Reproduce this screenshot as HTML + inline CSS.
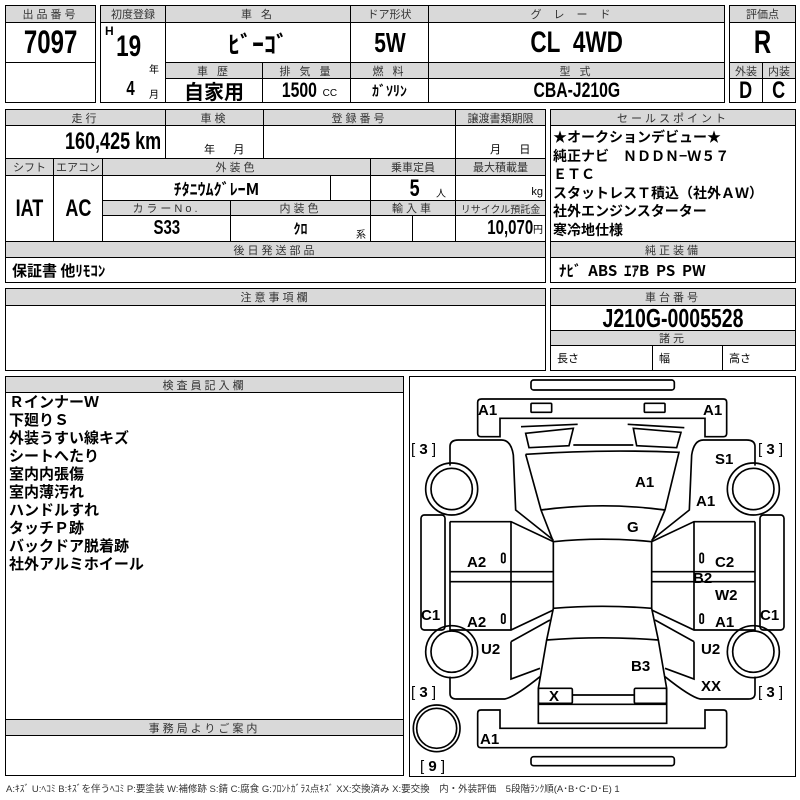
<!DOCTYPE html>
<html><head><meta charset="utf-8"><style>
*{margin:0;padding:0;box-sizing:border-box}
body{width:800px;height:800px;background:#fff;position:relative;overflow:hidden;font-family:"Liberation Sans","Noto Sans CJK JP",sans-serif;color:#000}
.c{position:absolute;border:1.5px solid #000;display:flex;align-items:center;justify-content:center;white-space:nowrap;overflow:hidden}
.h{background:#d9d9d9;font-size:11px;letter-spacing:3px;color:#333}
.b{font-family:"Liberation Sans Narrow","Liberation Sans","Noto Sans CJK JP",sans-serif;font-weight:bold}
.j{font-family:"Noto Sans CJK JP",sans-serif;font-weight:bold}
.t{position:absolute;white-space:nowrap}
.n{display:inline-block;transform:scaleX(.75)}
.r{transform-origin:right center}
</style></head><body>

<!-- top row -->
<div class="c h" style="left:5px;top:5px;width:91px;height:18px">出品番号</div>
<div class="c b" style="left:5px;top:22px;width:91px;height:41px;font-size:32px"><span class="n">7097</span></div>
<div class="c" style="left:5px;top:62px;width:91px;height:41px"></div>

<div class="c h" style="left:100px;top:5px;width:66px;height:18px;letter-spacing:0">初度登録</div>
<div class="c" style="left:100px;top:22px;width:66px;height:81px"></div>
<div class="t b" style="left:105px;top:24px;font-size:12px">H</div>
<div class="t b" style="left:112px;top:30px;font-size:30px"><span class="n">19</span></div>
<div class="t" style="left:149px;top:61px;font-size:10px">年</div>
<div class="t b" style="left:125px;top:78px;font-size:20px"><span class="n">4</span></div>
<div class="t" style="left:149px;top:86px;font-size:10px">月</div>

<div class="c h" style="left:165px;top:5px;width:186px;height:18px">車 名</div>
<div class="c j" style="left:165px;top:22px;width:186px;height:41px;font-size:24px">ﾋﾞｰｺﾞ</div>
<div class="c h" style="left:350px;top:5px;width:79px;height:18px;letter-spacing:0">ドア形状</div>
<div class="c b" style="left:350px;top:22px;width:79px;height:41px;font-size:28px"><span class="n">5W</span></div>
<div class="c h" style="left:428px;top:5px;width:297px;height:18px;letter-spacing:12px">グレード</div>
<div class="c b" style="left:428px;top:22px;width:297px;height:41px;font-size:30px"><span class="n">CL&nbsp;&nbsp;4WD</span></div>

<div class="c h" style="left:165px;top:62px;width:98px;height:17px">車 歴</div>
<div class="c h" style="left:262px;top:62px;width:89px;height:17px">排 気 量</div>
<div class="c h" style="left:350px;top:62px;width:79px;height:17px">燃 料</div>
<div class="c h" style="left:428px;top:62px;width:297px;height:17px">型 式</div>
<div class="c j" style="left:165px;top:78px;width:98px;height:25px;font-size:20px">自家用</div>
<div class="c b" style="left:262px;top:78px;width:89px;height:25px;font-size:21px"><span class="n">1500</span><span style="font-size:10px;font-weight:normal;margin-top:6px">CC</span></div>
<div class="c j" style="left:350px;top:78px;width:79px;height:25px;font-size:14px">ｶﾞｿﾘﾝ</div>
<div class="c b" style="left:428px;top:78px;width:297px;height:25px;font-size:21px"><span class="n">CBA-J210G</span></div>

<div class="c h" style="left:729px;top:5px;width:67px;height:18px;letter-spacing:0">評価点</div>
<div class="c b" style="left:729px;top:22px;width:67px;height:41px;font-size:32px"><span class="n">R</span></div>
<div class="c h" style="left:729px;top:62px;width:34px;height:17px;letter-spacing:0">外装</div>
<div class="c h" style="left:762px;top:62px;width:34px;height:17px;letter-spacing:0">内装</div>
<div class="c b" style="left:729px;top:78px;width:34px;height:25px;font-size:24px"><span class="n">D</span></div>
<div class="c b" style="left:762px;top:78px;width:34px;height:25px;font-size:24px"><span class="n">C</span></div>

<!-- second block -->
<div class="c h" style="left:5px;top:109px;width:161px;height:17px">走行</div>
<div class="c h" style="left:165px;top:109px;width:99px;height:17px">車検</div>
<div class="c h" style="left:263px;top:109px;width:193px;height:17px">登録番号</div>
<div class="c h" style="left:455px;top:109px;width:91px;height:17px;letter-spacing:0">譲渡書類期限</div>
<div class="c b" style="left:5px;top:125px;width:161px;height:34px;font-size:24px;justify-content:flex-end;padding-right:4px"><span class="n r">160,425 km</span></div>
<div class="c" style="left:165px;top:125px;width:99px;height:34px"></div>
<div class="t" style="left:204px;top:141px;font-size:11px">年&nbsp;&nbsp;&nbsp;&nbsp;&nbsp;&nbsp;月</div>
<div class="c" style="left:263px;top:125px;width:193px;height:34px"></div>
<div class="c" style="left:455px;top:125px;width:91px;height:34px"></div>
<div class="t" style="left:490px;top:141px;font-size:11px">月&nbsp;&nbsp;&nbsp;&nbsp;&nbsp;&nbsp;日</div>

<div class="c h" style="left:5px;top:158px;width:49px;height:18px;letter-spacing:0">シフト</div>
<div class="c h" style="left:53px;top:158px;width:50px;height:18px;letter-spacing:0">エアコン</div>
<div class="c h" style="left:102px;top:158px;width:269px;height:18px">外装色</div>
<div class="c h" style="left:370px;top:158px;width:86px;height:18px;letter-spacing:0">乗車定員</div>
<div class="c h" style="left:455px;top:158px;width:91px;height:18px;letter-spacing:0">最大積載量</div>
<div class="c b" style="left:5px;top:175px;width:49px;height:67px;font-size:24px"><span class="n">IAT</span></div>
<div class="c b" style="left:53px;top:175px;width:50px;height:67px;font-size:24px"><span class="n">AC</span></div>
<div class="c j" style="left:102px;top:175px;width:229px;height:26px;font-size:16px">ﾁﾀﾆｳﾑｸﾞﾚｰM</div>
<div class="c" style="left:330px;top:175px;width:41px;height:26px"></div>
<div class="c" style="left:370px;top:175px;width:86px;height:26px"></div>
<div class="t b" style="left:408px;top:175px;font-size:24px"><span class="n">5</span></div>
<div class="t" style="left:436px;top:185px;font-size:10px">人</div>
<div class="c" style="left:455px;top:175px;width:91px;height:26px;justify-content:flex-end;font-size:11px;padding-right:2px;padding-top:8px">kg</div>

<div class="c h" style="left:102px;top:200px;width:129px;height:16px">カラーNo.</div>
<div class="c h" style="left:230px;top:200px;width:141px;height:16px">内装色</div>
<div class="c h" style="left:370px;top:200px;width:86px;height:16px">輸入車</div>
<div class="c h" style="left:455px;top:200px;width:91px;height:16px;letter-spacing:0;font-size:10px">リサイクル預託金</div>
<div class="c b" style="left:102px;top:215px;width:129px;height:27px;font-size:20px"><span class="n">S33</span></div>
<div class="c j" style="left:230px;top:215px;width:141px;height:27px;font-size:14px">ｸﾛ</div>
<div class="t" style="left:356px;top:226px;font-size:10px">系</div>
<div class="c" style="left:370px;top:215px;width:43px;height:27px"></div>
<div class="c" style="left:412px;top:215px;width:44px;height:27px"></div>
<div class="c b" style="left:455px;top:215px;width:91px;height:27px;font-size:20px;justify-content:flex-end;padding-right:2px"><span class="n r">10,070</span><span style="font-size:10px;font-weight:normal">円</span></div>

<div class="c h" style="left:5px;top:241px;width:541px;height:17px">後日発送部品</div>
<div class="c j" style="left:5px;top:257px;width:541px;height:26px;font-size:15px;justify-content:flex-start;padding-left:6px">保証書 他ﾘﾓｺﾝ</div>

<div class="c h" style="left:550px;top:109px;width:246px;height:17px">セールスポイント</div>
<div class="c" style="left:550px;top:125px;width:246px;height:117px"></div>
<div class="t j" style="left:553px;top:128px;font-size:14px;line-height:18.5px">★オークションデビュー★<br>純正ナビ　ＮＤＤＮ−Ｗ５７<br>ＥＴＣ<br>スタットレスＴ積込（社外ＡＷ）<br>社外エンジンスターター<br>寒冷地仕様</div>
<div class="c h" style="left:550px;top:241px;width:246px;height:17px">純正装備</div>
<div class="c j" style="left:550px;top:257px;width:246px;height:26px;font-size:15px;justify-content:flex-start;padding-left:8px">ﾅﾋﾞ&nbsp; ABS&nbsp; ｴｱB&nbsp; PS&nbsp; PW</div>

<!-- third -->
<div class="c h" style="left:5px;top:288px;width:541px;height:18px">注意事項欄</div>
<div class="c" style="left:5px;top:305px;width:541px;height:66px"></div>
<div class="c h" style="left:550px;top:288px;width:246px;height:18px">車台番号</div>
<div class="c b" style="left:550px;top:305px;width:246px;height:26px;font-size:26px"><span class="n">J210G-0005528</span></div>
<div class="c h" style="left:550px;top:330px;width:246px;height:16px">諸元</div>
<div class="c" style="left:550px;top:345px;width:103px;height:26px;justify-content:flex-start;padding-left:6px;font-size:11px">長さ</div>
<div class="c" style="left:652px;top:345px;width:71px;height:26px;justify-content:flex-start;padding-left:6px;font-size:11px">幅</div>
<div class="c" style="left:722px;top:345px;width:74px;height:26px;justify-content:flex-start;padding-left:6px;font-size:11px">高さ</div>

<!-- inspector -->
<div class="c h" style="left:5px;top:376px;width:399px;height:17px">検査員記入欄</div>
<div class="c" style="left:5px;top:392px;width:399px;height:328px"></div>
<div class="t j" style="left:9px;top:393px;font-size:15px;line-height:18px">ＲインナーＷ<br>下廻りＳ<br>外装うすい線キズ<br>シートへたり<br>室内内張傷<br>室内薄汚れ<br>ハンドルすれ<br>タッチＰ跡<br>バックドア脱着跡<br>社外アルミホイール</div>
<div class="c h" style="left:5px;top:719px;width:399px;height:17px">事務局よりご案内</div>
<div class="c" style="left:5px;top:735px;width:399px;height:41px"></div>
<div class="t" style="left:6px;top:781px;font-size:9.5px;color:#333">A:ｷｽﾞ U:ﾍｺﾐ B:ｷｽﾞを伴うﾍｺﾐ P:要塗装 W:補修跡 S:錆 C:腐食 G:ﾌﾛﾝﾄｶﾞﾗｽ点ｷｽﾞ XX:交換済み X:要交換　内・外装評価　5段階ﾗﾝｸ順(A･B･C･D･E) 1</div>

<!-- diagram -->
<div class="c" style="left:409px;top:376px;width:387px;height:401px"></div>
<svg style="position:absolute;left:0;top:0" width="800" height="800">
<g transform="translate(405,375) scale(0.33333)" fill="none" stroke="#000" stroke-width="5">
 <rect x="378" y="15" width="430" height="30" rx="8"/>
 <rect x="378" y="1145" width="430" height="27" rx="8"/>
 <path d="M230,72 H955 Q965,72 965,82 V175 Q965,185 955,185 H900 V130 H285 V185 H228 Q218,185 218,175 V82 Q218,72 230,72Z"/>
 <rect x="378" y="85" width="62" height="27" rx="3"/>
 <rect x="718" y="85" width="62" height="27" rx="3"/>
 <path d="M228,1005 H285 V1060 H900 V1005 H955 Q965,1005 965,1015 V1108 Q965,1118 955,1118 H228 Q218,1118 218,1108 V1015 Q218,1005 228,1005Z"/>
 <path d="M348,155 L518,148 M668,148 L838,158 M505,210 H685"/>
 <path d="M362,175 L505,160 L492,212 L372,218Z M685,160 L828,172 L815,218 L695,212Z"/>
 <path d="M362,238 Q592,222 822,232 L780,405 M362,238 L408,405 M408,405 Q592,380 780,405 M408,405 L445,500 M780,405 L740,500"/>
 <path d="M445,500 Q592,485 740,500 V700 Q592,688 445,700Z"/>
 <path d="M445,700 L425,795 Q592,782 760,795 L740,700 M425,795 L400,940 V1045 H785 V940 L760,795"/>
 <rect x="400" y="940" width="102" height="45" rx="4"/>
 <rect x="688" y="940" width="97" height="45" rx="4"/>
 <path d="M502,960 H688 M400,988 H785"/>
 <g id="side">
  <path d="M135,272 V215 Q135,195 160,195 H290 Q318,195 325,240 L332,405 L445,495"/>
  <circle cx="140" cy="342" r="78"/><circle cx="140" cy="342" r="62"/>
  <path d="M135,440 H318 L445,500 M135,440 V765 H318 L445,705 M318,440 V765 M135,590 H445 M135,620 H445"/>
  <rect x="48" y="420" width="72" height="345" rx="10"/>
  <circle cx="140" cy="830" r="78"/><circle cx="140" cy="830" r="62"/>
  <path d="M318,800 L435,735 M318,800 V912 L405,880 M135,905 V955 Q135,972 155,972 H300 Q330,965 405,905"/>
  <rect x="290" y="535" width="10" height="28" rx="5"/>
  <rect x="290" y="717" width="10" height="28" rx="5"/>
 </g>
 <use href="#side" transform="translate(1185,0) scale(-1,1)"/>
 <circle cx="95" cy="1060" r="70"/><circle cx="95" cy="1060" r="60"/>
</g>
<g font-family="Liberation Sans, sans-serif" font-weight="bold" font-size="15" fill="#000">
 <text x="478" y="415">A1</text><text x="703" y="415">A1</text>
 <text x="715" y="464">S1</text><text x="635" y="487">A1</text><text x="696" y="506">A1</text>
 <text x="627" y="532">G</text>
 <text x="467" y="567">A2</text><text x="715" y="567">C2</text><text x="693" y="583">B2</text>
 <text x="715" y="600">W2</text><text x="421" y="620">C1</text><text x="467" y="627">A2</text>
 <text x="715" y="627">A1</text><text x="760" y="620">C1</text>
 <text x="481" y="654">U2</text><text x="701" y="654">U2</text>
 <text x="631" y="671">B3</text><text x="701" y="691">XX</text><text x="549" y="701">X</text>
 <text x="480" y="744">A1</text>
</g>
<g font-family="Liberation Sans, sans-serif" font-size="15" fill="#000">
 <text x="411" y="454">[ <tspan font-weight="bold">3</tspan> ]</text>
 <text x="758" y="454">[ <tspan font-weight="bold">3</tspan> ]</text>
 <text x="411" y="697">[ <tspan font-weight="bold">3</tspan> ]</text>
 <text x="758" y="697">[ <tspan font-weight="bold">3</tspan> ]</text>
 <text x="420" y="771">[ <tspan font-weight="bold">9</tspan> ]</text>
</g>
</svg>
</body></html>
